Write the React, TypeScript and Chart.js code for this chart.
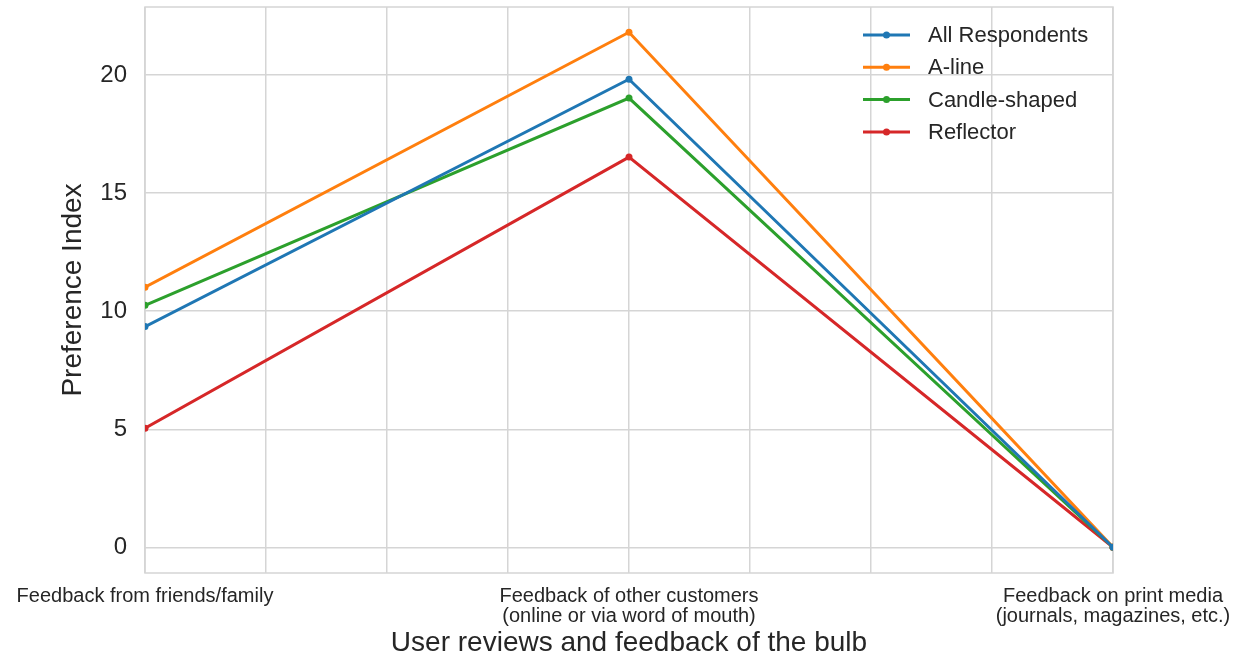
import React, { useEffect, useRef } from 'react';
import { Chart, registerables } from 'chart.js';

Chart.register(...registerables);

const categories: (string | string[])[] = [
  'Feedback from friends/family',
  ['Feedback of other customers', '(online or via word of mouth)'],
  ['Feedback on print media', '(journals, magazines, etc.)'],
];
const categoryPositions = [0, 1, 2];
const seriesNames = ['All Respondents', 'A-line', 'Candle-shaped', 'Reflector'];
const allRespondents = [9.35, 19.83, 0];
const aLine = [11.02, 21.82, 0];
const candleShaped = [10.25, 19.03, 0];
const reflector = [5.04, 16.53, 0];
const seriesColors = ['#1f77b4', '#ff7f0e', '#2ca02c', '#d62728'];
const xTitle = 'User reviews and feedback of the bulb';
const yTitle = 'Preference Index';

const FONT = "'Liberation Sans', Arial, sans-serif";
const TEXT = '#262626';
const GRID = '#d5d5d5';

const W = 1247;
const H = 659;

export default function App() {
  const ref = useRef<HTMLCanvasElement | null>(null);

  useEffect(() => {
    document.body.style.margin = '0';
    const canvas = ref.current;
    if (!canvas) return;
    const seriesValues = [allRespondents, aLine, candleShaped, reflector];
    const datasets = seriesNames.map((name, i) => ({
      label: name,
      data: categoryPositions.map((x, j) => ({ x, y: seriesValues[i][j] })),
      borderColor: seriesColors[i],
      backgroundColor: seriesColors[i],
      borderWidth: 3,
      pointRadius: 3.5,
      pointBorderWidth: 0,
      tension: 0,
    }));

    const frame = {
      id: 'frame',
      beforeDatasetsDraw(chart: any) {
        const { ctx, chartArea: a } = chart;
        ctx.save();
        ctx.strokeStyle = GRID;
        ctx.lineWidth = 1.5;
        ctx.strokeRect(a.left, a.top, a.right - a.left, a.bottom - a.top);
        ctx.restore();
      },
    };

    const innerLegend = {
      id: 'innerLegend',
      afterDraw(chart: any) {
        const { ctx, chartArea: a } = chart;
        const x0 = a.right - 250;
        const y0 = a.top + 28;
        const rowH = 32.3;
        ctx.save();
        ctx.font = `22px ${FONT}`;
        ctx.textBaseline = 'middle';
        ctx.textAlign = 'left';
        chart.data.datasets.forEach((ds: any, i: number) => {
          const y = y0 + i * rowH;
          ctx.strokeStyle = ds.borderColor;
          ctx.lineWidth = 3;
          ctx.beginPath();
          ctx.moveTo(x0, y);
          ctx.lineTo(x0 + 47, y);
          ctx.stroke();
          ctx.fillStyle = ds.borderColor;
          ctx.beginPath();
          ctx.arc(x0 + 23.5, y, 3.5, 0, Math.PI * 2);
          ctx.fill();
          ctx.fillStyle = TEXT;
          ctx.fillText(ds.label, x0 + 65, y + 1);
        });
        ctx.restore();
      },
    };

    const chart = new Chart(canvas, {
      type: 'line',
      data: { datasets },
      plugins: [frame, innerLegend],
      options: {
        animation: false,
        responsive: false,
        maintainAspectRatio: false,
        layout: { padding: { top: 7, right: 134, bottom: 0, left: 0 } },
        plugins: {
          legend: { display: false },
          tooltip: { enabled: false },
        },
        scales: {
          x: {
            type: 'linear',
            min: 0,
            max: 2,
            afterFit(scale: any) {
              scale.height = 86;
            },
            grid: { color: GRID, lineWidth: 1.5, drawTicks: false },
            border: { display: false },
            ticks: {
              stepSize: 0.25,
              autoSkip: false,
              maxRotation: 0,
              minRotation: 0,
              padding: 14,
              color: TEXT,
              font: { family: FONT, size: 20, lineHeight: 0.97 },
              callback: (v: any) => {
                const n = Number(v);
                const idx = categoryPositions.indexOf(n);
                return idx >= 0 ? categories[idx] : '';
              },
            },
            title: {
              display: true,
              text: xTitle,
              color: TEXT,
              font: { family: FONT, size: 28, lineHeight: 1 },
              padding: { top: 0, bottom: 2 },
            },
          },
          y: {
            type: 'linear',
            min: -1.09,
            max: 22.89,
            afterFit(scale: any) {
              scale.width = 145;
              scale.paddingTop = 0;
              scale.paddingBottom = 0;
            },
            grid: { color: GRID, lineWidth: 1.5, drawTicks: false },
            border: { display: false },
            ticks: {
              stepSize: 5,
              includeBounds: false,
              padding: 18,
              color: TEXT,
              font: { family: FONT, size: 24 },
              callback: (v: any) => String(v),
            },
            title: {
              display: true,
              text: yTitle,
              color: TEXT,
              font: { family: FONT, size: 28, lineHeight: 1.2 },
              padding: { top: 56, bottom: 0 },
            },
          },
        },
      },
    } as any);

    return () => chart.destroy();
  }, []);

  return (
    <div style={{ width: W, height: H }}>
      <canvas ref={ref} width={W} height={H} style={{ display: 'block', width: W, height: H }} />
    </div>
  );
}
